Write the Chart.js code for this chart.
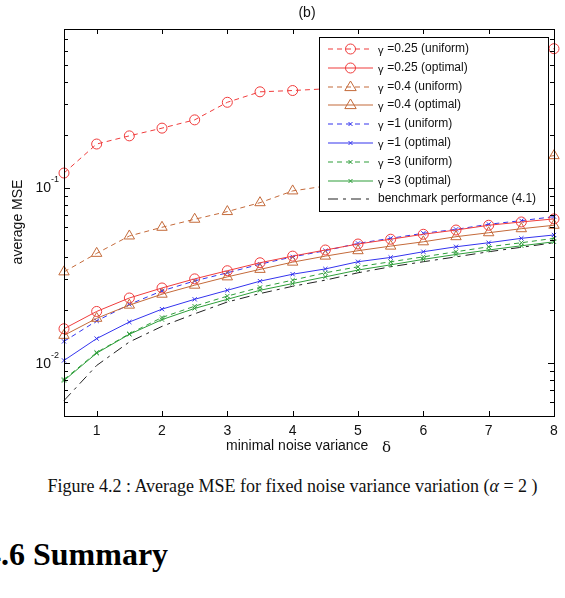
<!DOCTYPE html>
<html>
<head>
<meta charset="utf-8">
<script src="https://cdn.jsdelivr.net/npm/chart.js@4.4.1/dist/chart.umd.min.js"></script>
<style>
  body { margin: 0; background: #fff; width: 565px; height: 598px; overflow: hidden; position: relative; }
  #chart { position: absolute; left: 0; top: 0; }
  .caption { position: absolute; left: 0; width: 585px; top: 476px; text-align: center;
             font-family: "Liberation Serif", serif; font-size: 18px; color: #111; white-space: nowrap; }
  .heading { position: absolute; left: -15px; top: 536px; font-family: "Liberation Serif", serif;
             font-weight: bold; font-size: 32px; color: #000; white-space: nowrap; }
</style>
</head>
<body>
<canvas id="chart" width="565" height="460"></canvas>
<div class="caption">Figure 4.2 : Average MSE for fixed noise variance variation (<i>α</i> = 2 )</div>
<div class="heading">4.6 Summary</div>
<script>
// minimal noise variance (delta)
const deltas = [0.5, 1, 1.5, 2, 2.5, 3, 3.5, 4, 4.5, 5, 5.5, 6, 6.5, 7, 7.5, 8];

// average MSE
const g025Uniform = [0.121, 0.177, 0.197, 0.218, 0.243, 0.306, 0.351, 0.357, 0.365, 0.385, 0.41, 0.44, 0.47, 0.51, 0.56, 0.618];
const g025Optimal = [0.0157, 0.0197, 0.0235, 0.0268, 0.0302, 0.0336, 0.0373, 0.0407, 0.0441, 0.0477, 0.0508, 0.0542, 0.0573, 0.061, 0.0637, 0.0663];
const g04Uniform = [0.0331, 0.0422, 0.053, 0.0594, 0.066, 0.073, 0.082, 0.0957, 0.102, 0.108, 0.114, 0.12, 0.128, 0.135, 0.143, 0.152];
const g04Optimal = [0.0144, 0.018, 0.0214, 0.0247, 0.0278, 0.031, 0.0342, 0.0376, 0.0407, 0.0437, 0.0464, 0.0491, 0.0525, 0.0553, 0.0583, 0.061];
const g1Uniform = [0.0133, 0.0174, 0.0216, 0.0258, 0.0294, 0.0327, 0.0366, 0.0403, 0.0437, 0.0481, 0.0514, 0.0549, 0.0578, 0.0618, 0.0648, 0.0683];
const g1Optimal = [0.01036, 0.0138, 0.01715, 0.0203, 0.0231, 0.026, 0.0293, 0.0321, 0.0344, 0.0378, 0.04, 0.0431, 0.046, 0.0485, 0.0514, 0.0537];
const g3Uniform = [0.00807, 0.0115, 0.0147, 0.0182, 0.0211, 0.0241, 0.027, 0.0297, 0.0327, 0.0354, 0.0378, 0.0403, 0.0431, 0.046, 0.0485, 0.0514];
const g3Optimal = [0.00796, 0.0114, 0.0146, 0.0177, 0.0205, 0.0231, 0.026, 0.0284, 0.031, 0.0339, 0.0363, 0.039, 0.0416, 0.0441, 0.0466, 0.0491];
const benchmark = [0.00612, 0.0097, 0.0132, 0.0162, 0.0191, 0.0223, 0.0249, 0.0274, 0.0297, 0.0327, 0.0354, 0.0378, 0.0403, 0.0431, 0.0457, 0.0485];

// axis ticks
const xTicks = [1, 2, 3, 4, 5, 6, 7, 8];
const yMajorTicks = [0.01, 0.1];
const yTickLabels = ['-2', '-1'];
const yMinorTicks = [0.005, 0.006, 0.007, 0.008, 0.009, 0.02, 0.03, 0.04, 0.05, 0.06, 0.07, 0.08, 0.09,
                     0.2, 0.3, 0.4, 0.5, 0.6, 0.7, 0.8];

const RED = '#f03c3c', BROWN = '#c46a3a', BLUE = '#3434ee', GREEN = '#2e9e3a', BLACK = '#222';
const DASH = [5, 4], DASHDOT = [10, 5, 3, 5];
const FONT = '"Liberation Sans", Arial, sans-serif';

// legend entries (kept separately so the legend does not depend on chart internals)
const legendItems = [];

function series(label, values, color, dash, style, radius) {
  legendItems.push({ label: label, color: color, dash: dash, style: style });
  return {
    label: label,
    data: deltas.map((d, i) => ({ x: d, y: values[i] })),
    borderColor: color,
    backgroundColor: 'rgba(0,0,0,0)',
    pointBorderColor: color,
    pointBackgroundColor: 'rgba(0,0,0,0)',
    borderWidth: 1,
    pointBorderWidth: 1,
    borderDash: dash,
    pointStyle: style,
    pointRadius: radius,
    tension: 0,
    clip: 10
  };
}

const datasets = [
  series('=0.25 (uniform)', g025Uniform, RED, DASH, 'circle', 5),
  series('=0.25 (optimal)', g025Optimal, RED, [], 'circle', 5),
  series('=0.4 (uniform)', g04Uniform, BROWN, DASH, 'triangle', 6),
  series('=0.4 (optimal)', g04Optimal, BROWN, [], 'triangle', 6),
  series('=1 (uniform)', g1Uniform, BLUE, DASH, 'crossRot', 3),
  series('=1 (optimal)', g1Optimal, BLUE, [], 'crossRot', 3),
  series('=3 (uniform)', g3Uniform, GREEN, DASH, 'crossRot', 3),
  series('=3 (optimal)', g3Optimal, GREEN, [], 'crossRot', 3),
  series('benchmark performance (4.1)', benchmark, BLACK, DASHDOT, false, 0)
];

function marker(ctx, style, x, y, r, color) {
  ctx.save();
  ctx.strokeStyle = color;
  ctx.lineWidth = 1;
  ctx.setLineDash([]);
  ctx.beginPath();
  if (style === 'circle') {
    ctx.arc(x, y, r, 0, Math.PI * 2);
  } else if (style === 'triangle') {
    ctx.moveTo(x, y - r);
    ctx.lineTo(x + r * 0.95, y + r * 0.6);
    ctx.lineTo(x - r * 0.95, y + r * 0.6);
    ctx.closePath();
  } else if (style === 'crossRot') {
    ctx.moveTo(x - r, y - r); ctx.lineTo(x + r, y + r);
    ctx.moveTo(x + r, y - r); ctx.lineTo(x - r, y + r);
  }
  ctx.stroke();
  ctx.restore();
}

const framePlugin = {
  id: 'frame',
  afterDatasetsDraw(chart) {
    const ctx = chart.ctx;
    const a = chart.chartArea;
    const xs = chart.scales.x, ys = chart.scales.y;

    // legend box
    const lx = 319, ly = 37, lw = 229, lh = 174;
    ctx.save();
    ctx.fillStyle = '#fff';
    ctx.fillRect(lx, ly, lw, lh);
    ctx.strokeStyle = '#000';
    ctx.lineWidth = 1;
    ctx.setLineDash([]);
    ctx.strokeRect(lx + 0.5, ly + 0.5, lw, lh);
    legendItems.forEach((it, i) => {
      const y = Math.round(49 + i * 18.8);
      ctx.save();
      ctx.strokeStyle = it.color;
      ctx.lineWidth = 1.2;
      ctx.setLineDash(it.dash.slice());
      ctx.beginPath();
      ctx.moveTo(328, y);
      ctx.lineTo(373, y);
      ctx.stroke();
      ctx.restore();
      if (it.style) {
        const r = it.style === 'triangle' ? 6 : it.style === 'circle' ? 5 : 2;
        marker(ctx, it.style, 350.5, y, r, it.color);
      }
      ctx.fillStyle = '#111';
      ctx.textBaseline = 'middle';
      ctx.textAlign = 'left';
      if (i < 8) {
        ctx.font = '11px ' + FONT;
        ctx.fillText('γ', 378, y + 2);
        ctx.font = '12px ' + FONT;
        ctx.fillText(' ' + it.label, 384, y);
      } else {
        ctx.font = '12px ' + FONT;
        ctx.fillText(it.label, 378, y);
      }
    });

    // axes box
    ctx.strokeStyle = '#000';
    ctx.lineWidth = 1;
    ctx.setLineDash([]);
    ctx.strokeRect(Math.round(a.left) + 0.5, Math.round(a.top) + 0.5,
                   Math.round(a.right - a.left), Math.round(a.bottom - a.top));

    // inward ticks
    ctx.beginPath();
    xTicks.forEach(v => {
      const px = Math.round(xs.getPixelForValue(v)) + 0.5;
      ctx.moveTo(px, a.bottom); ctx.lineTo(px, a.bottom - 5);
      ctx.moveTo(px, a.top); ctx.lineTo(px, a.top + 5);
    });
    yMajorTicks.concat(yMinorTicks).forEach(v => {
      const py = Math.round(ys.getPixelForValue(v)) + 0.5;
      const len = yMajorTicks.includes(v) ? 6 : 4;
      ctx.moveTo(a.left, py); ctx.lineTo(a.left + len, py);
      ctx.moveTo(a.right, py); ctx.lineTo(a.right - len, py);
    });
    ctx.stroke();

    // tick labels
    ctx.fillStyle = '#111';
    ctx.font = '14px ' + FONT;
    ctx.textAlign = 'center';
    ctx.textBaseline = 'top';
    xTicks.forEach(v => ctx.fillText(String(v), xs.getPixelForValue(v), a.bottom + 8));
    yMajorTicks.forEach((v, i) => {
      const py = ys.getPixelForValue(v);
      ctx.textAlign = 'right';
      ctx.textBaseline = 'middle';
      ctx.font = '14px ' + FONT;
      ctx.fillText('10', 51, py + 1);
      ctx.textAlign = 'left';
      ctx.font = '9px ' + FONT;
      ctx.fillText(yTickLabels[i], 51, py - 8);
    });

    // titles
    ctx.font = '14px ' + FONT;
    ctx.textAlign = 'center';
    ctx.textBaseline = 'middle';
    ctx.fillText('(b)', 307, 13);
    ctx.textAlign = 'left';
    ctx.fillText('minimal noise variance', 226, 446);
    ctx.font = '15px "DejaVu Serif", serif';
    ctx.fillText('δ', 382, 448);
    ctx.save();
    ctx.translate(18, 222);
    ctx.rotate(-Math.PI / 2);
    ctx.font = '14px ' + FONT;
    ctx.textAlign = 'center';
    ctx.fillText('average MSE', 0, 0);
    ctx.restore();
    ctx.restore();
  }
};

new Chart(document.getElementById('chart').getContext('2d'), {
  type: 'line',
  data: { datasets: datasets },
  options: {
    responsive: false,
    animation: false,
    devicePixelRatio: 1,
    layout: { padding: { left: 64, right: 11, top: 29, bottom: 44 } },
    plugins: { legend: { display: false }, tooltip: { enabled: false }, title: { display: false } },
    scales: {
      x: { type: 'linear', min: 0.5, max: 8, display: false },
      y: { type: 'logarithmic', min: 0.005, max: 0.8, display: false }
    }
  },
  plugins: [framePlugin]
});
</script>
</body>
</html>
